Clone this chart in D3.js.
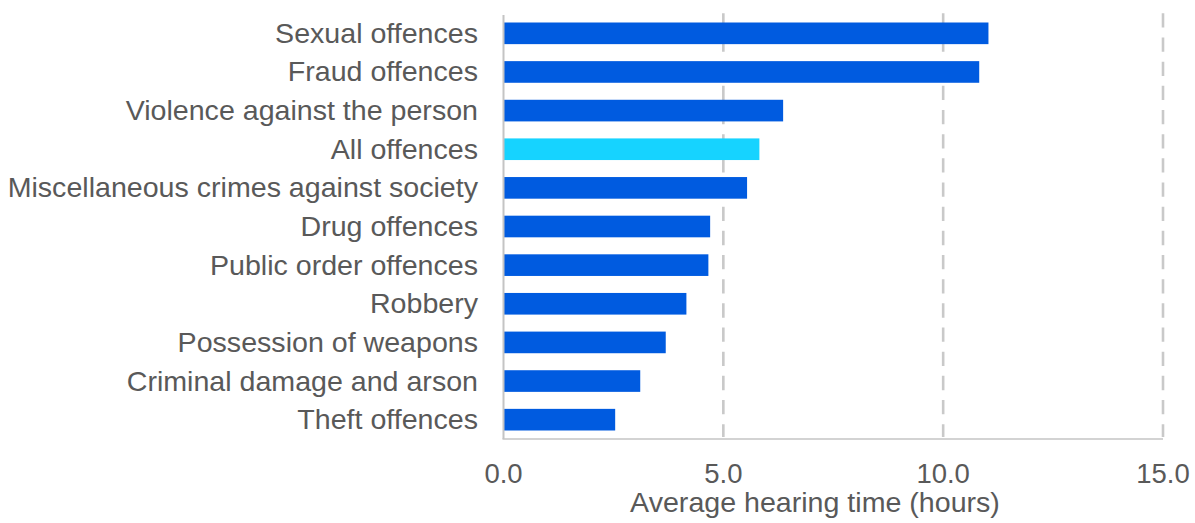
<!DOCTYPE html>
<html>
<head>
<meta charset="utf-8">
<script src="https://cdn.jsdelivr.net/npm/d3@7"></script>
<style>
  html, body { margin: 0; padding: 0; background: #ffffff; }
  svg { display: block; }
  text { font-family: "Liberation Sans", Arial, sans-serif; fill: #595959; }
</style>
</head>
<body>
<svg id="chart" width="1195" height="523"></svg>
<script>
// Average hearing time by offence group (hours)
const categories = [
  "Sexual offences",
  "Fraud offences",
  "Violence against the person",
  "All offences",
  "Miscellaneous crimes against society",
  "Drug offences",
  "Public order offences",
  "Robbery",
  "Possession of weapons",
  "Criminal damage and arson",
  "Theft offences"
];
const hours = [11.03, 10.82, 6.36, 5.82, 5.54, 4.70, 4.66, 4.16, 3.69, 3.11, 2.54];
const highlighted = ["All offences"];
const xTicks = [0, 5, 10, 15];
const xTitle = "Average hearing time (hours)";

(function draw() {
  const svg = d3.select("#chart");
  const plotLeft = 503.5, plotRight = 1163, plotTop = 14, plotBottom = 439;
  const textStretch = 1.04;

  const x = d3.scaleLinear().domain([0, 15]).range([plotLeft, plotRight]);
  const y = d3.scaleBand().domain(categories).range([plotTop, plotBottom])
    .paddingInner(0.44).paddingOuter(0.22);

  // dashed vertical gridlines
  svg.append("g")
    .selectAll("line")
    .data(xTicks.filter(d => d > 0))
    .join("line")
    .attr("x1", d => x(d)).attr("x2", d => x(d))
    .attr("y1", 13.3).attr("y2", plotBottom - 2)
    .attr("stroke", "#c9c9c9")
    .attr("stroke-width", 2.6)
    .attr("stroke-dasharray", "14.3 9.87");

  // bars
  svg.append("g")
    .selectAll("rect")
    .data(categories.map((c, i) => ({ c, v: hours[i] })))
    .join("rect")
    .attr("x", x(0))
    .attr("y", d => y(d.c))
    .attr("width", d => x(d.v) - x(0))
    .attr("height", y.bandwidth())
    .attr("fill", d => highlighted.includes(d.c) ? "#16d3ff" : "#005be0");

  // axis lines
  svg.append("line")
    .attr("x1", x(0)).attr("x2", x(0))
    .attr("y1", 15).attr("y2", plotBottom)
    .attr("stroke", "#c4c4c4").attr("stroke-width", 2);
  svg.append("line")
    .attr("x1", x(0) - 1).attr("x2", x(15))
    .attr("y1", plotBottom).attr("y2", plotBottom)
    .attr("stroke", "#c4c4c4").attr("stroke-width", 1.6);

  // category labels
  svg.append("g")
    .selectAll("text")
    .data(categories)
    .join("text")
    .attr("transform", d => `translate(478,${y(d) + y.bandwidth() / 2 + 9.5}) scale(${textStretch},1)`)
    .attr("text-anchor", "end")
    .style("font-size", "27.5px")
    .text(d => d);

  // x tick labels
  svg.append("g")
    .selectAll("text")
    .data(xTicks)
    .join("text")
    .attr("x", d => x(d))
    .attr("y", 483)
    .attr("text-anchor", "middle")
    .style("font-size", "27.5px")
    .text(d => d3.format(".1f")(d));

  // axis title
  svg.append("text")
    .attr("transform", `translate(815,511.5) scale(${textStretch},1)`)
    .attr("text-anchor", "middle")
    .style("font-size", "27.5px")
    .text(xTitle);
})();
</script>
</body>
</html>
